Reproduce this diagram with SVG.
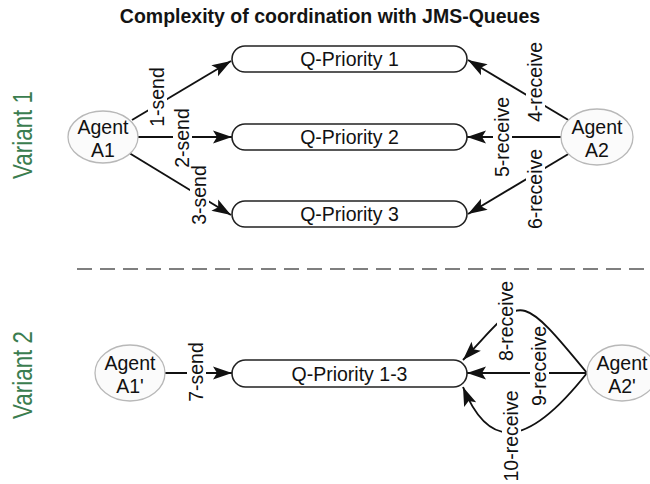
<svg xmlns="http://www.w3.org/2000/svg" width="650" height="484" viewBox="0 0 650 484">
  <defs>
    <style>
      text { font-family: "Liberation Sans", Arial, Helvetica, sans-serif; fill: #111; }
      .title { font-size: 19.5px; font-weight: bold; text-anchor: middle; fill: #141414; }
      .variant { font-size: 28px; fill: #3b7d4f; text-anchor: middle; }
      .node-text { font-size: 19.5px; text-anchor: middle; }
      .lbl { font-size: 19.5px; text-anchor: middle; }
      .agent { fill: #fbfbfb; stroke: #b8b8b8; stroke-width: 1.3; }
      .queue { fill: #fff; stroke: #222; stroke-width: 1.6; }
      .edge { fill: none; stroke: #111; stroke-width: 1.9; marker-end: url(#arrow); }
      .lblbg { fill: #fff; }
      .sep { fill: none; stroke: #555; stroke-width: 1.6; stroke-dasharray: 15 8; }
    </style>
    <marker id="arrow" viewBox="-20 -8 21 16" refX="0" refY="0" markerWidth="21" markerHeight="16" markerUnits="userSpaceOnUse" orient="auto">
      <path d="M0,0 L-19,-6.5 L-15,0 L-19,6.5 Z" fill="#111"/>
    </marker>
  </defs>

  <rect x="0" y="0" width="650" height="484" fill="#fff"/>

  <text class="title" x="330" y="23">Complexity of coordination with JMS-Queues</text>

  <!-- section captions -->
  <text class="variant" transform="translate(32,135) rotate(-90)" textLength="88" lengthAdjust="spacingAndGlyphs">Variant 1</text>
  <text class="variant" transform="translate(32,375) rotate(-90)" textLength="88" lengthAdjust="spacingAndGlyphs">Variant 2</text>

  <!-- divider between the two variants -->
  <line class="sep" x1="77" y1="269" x2="650" y2="269"/>

  <!-- message flows -->
  <g id="connectors">
    <g id="e1">
      <path class="edge" d="M132,120 L231,61"/>
      <g transform="translate(164,97) rotate(-90)"><rect class="lblbg" x="-31" y="-16" width="62" height="19"/><text class="lbl">1-send</text></g>
    </g>
    <g id="e2">
      <path class="edge" d="M138,137 L232,137"/>
      <g transform="translate(189,138) rotate(-90)"><rect class="lblbg" x="-31" y="-16" width="62" height="19"/><text class="lbl">2-send</text></g>
    </g>
    <g id="e3">
      <path class="edge" d="M130,153.5 L231,215"/>
      <g transform="translate(206,195) rotate(-90)"><rect class="lblbg" x="-31" y="-16" width="62" height="19"/><text class="lbl">3-send</text></g>
    </g>
    <g id="e4">
      <path class="edge" d="M568.4,120 L468,60"/>
      <g transform="translate(542,82) rotate(-90)"><rect class="lblbg" x="-41" y="-16" width="82" height="19"/><text class="lbl">4-receive</text></g>
    </g>
    <g id="e5">
      <path class="edge" d="M561,137 L467,137"/>
      <g transform="translate(509,137) rotate(-90)"><rect class="lblbg" x="-41" y="-16" width="82" height="19"/><text class="lbl">5-receive</text></g>
    </g>
    <g id="e6">
      <path class="edge" d="M568.4,154 L468,214"/>
      <g transform="translate(542,189) rotate(-90)"><rect class="lblbg" x="-41" y="-16" width="82" height="19"/><text class="lbl">6-receive</text></g>
    </g>
    <g id="e7">
      <path class="edge" d="M165,373 L232,373"/>
      <g transform="translate(203,372) rotate(-90)"><rect class="lblbg" x="-31" y="-16" width="62" height="19"/><text class="lbl">7-send</text></g>
    </g>
    <g id="e9">
      <path class="edge" d="M587,373 L467,373"/>
      <g transform="translate(546,366) rotate(-90)"><rect class="lblbg" x="-41" y="-16" width="82" height="19"/><text class="lbl">9-receive</text></g>
    </g>
    <g id="e8">
      <path class="edge" d="M587,373 C514,284 522,299 463,360"/>
      <g transform="translate(513,321) rotate(-90)"><rect class="lblbg" x="-41" y="-16" width="82" height="19"/><text class="lbl">8-receive</text></g>
    </g>
    <g id="e10">
      <path class="edge" d="M587,373 C523,454 487,446 463,387"/>
      <g transform="translate(518,436) rotate(-90)"><rect class="lblbg" x="-46" y="-16" width="92" height="19"/><text class="lbl">10-receive</text></g>
    </g>
  </g>

  <!-- Variant 1 -->
  <g id="agent-a1">
    <ellipse class="agent" cx="103" cy="137" rx="35" ry="26"/>
    <text class="node-text" x="103" y="133.5">Agent</text>
    <text class="node-text" x="103" y="156.5">A1</text>
  </g>
  <g id="agent-a2">
    <ellipse class="agent" cx="597" cy="137" rx="36" ry="28"/>
    <text class="node-text" x="597" y="133.5">Agent</text>
    <text class="node-text" x="597" y="156.5">A2</text>
  </g>
  <g id="q-priority-1">
    <rect class="queue" x="232" y="46" width="235" height="26" rx="13"/>
    <text class="node-text" x="349.5" y="66">Q-Priority 1</text>
  </g>
  <g id="q-priority-2">
    <rect class="queue" x="232" y="124" width="235" height="26" rx="13"/>
    <text class="node-text" x="349.5" y="144">Q-Priority 2</text>
  </g>
  <g id="q-priority-3">
    <rect class="queue" x="232" y="201" width="235" height="26" rx="13"/>
    <text class="node-text" x="349.5" y="221">Q-Priority 3</text>
  </g>

  <!-- Variant 2 -->
  <g id="agent-a1p">
    <ellipse class="agent" cx="130" cy="373" rx="35" ry="28"/>
    <text class="node-text" x="130" y="369.5">Agent</text>
    <text class="node-text" x="130" y="392.5">A1'</text>
  </g>
  <g id="agent-a2p">
    <ellipse class="agent" cx="622" cy="373" rx="35" ry="28"/>
    <text class="node-text" x="622" y="369.5">Agent</text>
    <text class="node-text" x="622" y="392.5">A2'</text>
  </g>
  <g id="q-priority-1-3">
    <rect class="queue" x="232" y="360" width="235" height="27" rx="13.5"/>
    <text class="node-text" x="349.5" y="380.5">Q-Priority 1-3</text>
  </g>
</svg>
